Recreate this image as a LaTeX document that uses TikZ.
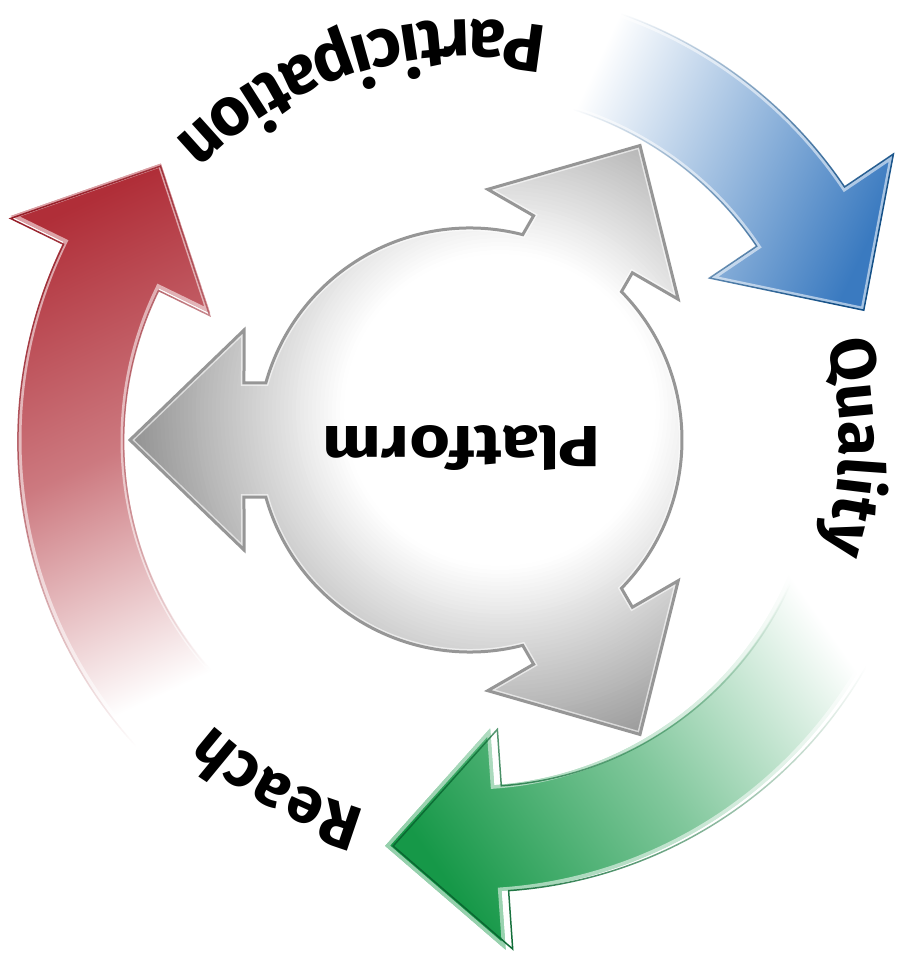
\documentclass[tikz,border=0pt]{standalone}
\usepackage{fontspec}
\setsansfont{Fira Sans}
\usetikzlibrary{calc,decorations.text,fadings}
\definecolor{redA}{RGB}{176,46,56}
\definecolor{redD}{RGB}{150,30,40}
\definecolor{blueA}{RGB}{58,122,192}
\definecolor{blueD}{RGB}{20,80,135}
\definecolor{greenA}{RGB}{22,152,72}
\definecolor{greenD}{RGB}{10,105,50}
\definecolor{rimgray}{RGB}{150,150,150}
\tikzfading[name=fadeaxis, bottom color=transparent!100, top color=transparent!0]
\newcommand\ringpath[2]{(#1:452) arc[start angle=#1, end angle=#2, radius=452] -- (#2:511) -- ($(#2:399)+(#2-90:113)$) -- (#2:289) -- (#2:346) arc[start angle=#2, end angle=#1, radius=346] -- cycle}
\newcommand\platpath{(-75.6:212) -- (-74.16:233.1) -- (-85.95:251.3) -- (-60:340) -- (-34.05:251.3) -- (-45.84:233.1) -- (-44.4:212) arc[start angle=-44.4, end angle=44.4, radius=212] -- (45.84:233.1) -- (34.05:251.3) -- (60:340) -- (85.95:251.3) -- (74.16:233.1) -- (75.6:212) arc[start angle=75.6, end angle=164.4, radius=212] -- (165.84:233.1) -- (154.05:251.3) -- (180:340) -- (205.95:251.3) -- (194.16:233.1) -- (195.6:212) arc[start angle=195.6, end angle=284.4, radius=212] -- cycle}
\newcommand\arcfont{\sffamily\bfseries\fontsize{64}{72}\selectfont}
\newcommand\bigarcfont{\sffamily\bfseries\fontsize{68}{76}\selectfont}
\tikzset{
  rimline/.style={line width=1.5, line join=miter, path fading=fadeaxis},
  bevel/.style={white, opacity=0.55, line width=7, line join=miter},
  arclabel/.style={decorate, decoration={text along path, text align=center, text={|\arcfont|#1}}},
  bigarclabel/.style={decorate, decoration={text along path, text align=center, text={|\bigarcfont|#1}}}
}
\begin{document}
\begin{tikzpicture}[x=1pt,y=1pt]
\useasboundingbox (-470,-517) rectangle (429,440);
% red arrow
\shade[top color=redA, bottom color=white, middle color=redA!64, shading angle=25] \ringpath{224}{154};
\begin{scope}\clip \ringpath{224}{154}; \draw[bevel] \ringpath{224}{154};\end{scope}
\draw[rimline, redD, fading angle=25] \ringpath{224}{154};
% blue arrow
\shade[top color=blueA, bottom color=white, middle color=blueA!50, shading angle=245] \ringpath{74}{34};
\begin{scope}\clip \ringpath{74}{34}; \draw[bevel] \ringpath{74}{34};\end{scope}
\draw[rimline, blueD, fading angle=245] \ringpath{74}{34};
% green arrow
\shade[top color=greenA, bottom color=white, middle color=greenA!54, shading angle=125] \ringpath{-21}{-86};
\begin{scope}\clip \ringpath{-21}{-86}; \draw[bevel] \ringpath{-21}{-86};\end{scope}
\draw[rimline, greenD, fading angle=125] \ringpath{-21}{-86};
% platform shape with a stepped radial gradient
\begin{scope}
  \clip \platpath;
  \fill[black!40] (-470,-517) rectangle (429,440);
  \foreach \r in {380,376,...,152} {
    \pgfmathsetmacro\p{max(0,(\r-158)*0.2)}
    \fill[black!\p] (30,30) circle (\r);
  }
  \draw[white, opacity=0.6, line width=6, line join=miter] \platpath;
\end{scope}
\draw[rimgray, line width=3, line join=miter] \platpath;
\node[rotate=180, xscale=1.2, anchor=base, inner sep=0, font=\sffamily\bfseries\fontsize{58}{66}\selectfont] (platform) at (-8,13) {Platform};
% ring labels
\path[bigarclabel=Participation] (67:420) arc[start angle=67, end angle=147, radius=420];
\path[arclabel=Quality] (40:370) arc[start angle=40, end angle=-42, radius=370];
\path[arclabel=Reach] (-80:384) arc[start angle=-80, end angle=-158, radius=384];
\end{tikzpicture}
\end{document}
